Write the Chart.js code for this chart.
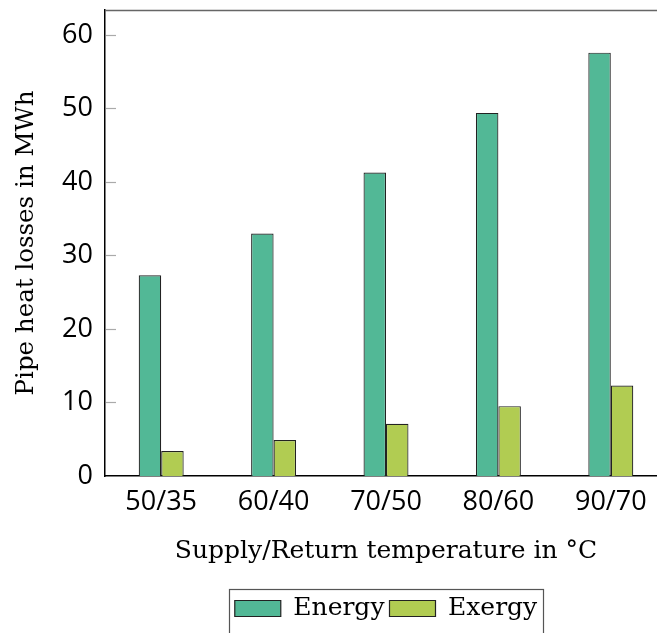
<!DOCTYPE html>
<html><head><meta charset="utf-8">
<script src="https://cdn.jsdelivr.net/npm/chart.js@4/dist/chart.umd.min.js"></script>
<style>
html,body{margin:0;padding:0;overflow:hidden;background:#fff;width:657px;height:633px}
#wrap{position:absolute;left:0;top:0;width:772px;height:633px}
</style>
</head><body><div id="wrap"><canvas id="c" width="772" height="633"></canvas></div>
<script>
const categories = ['50/35','60/40','70/50','80/60','90/70'];
const energy = [27.3, 33.0, 41.3, 49.4, 57.6];
const exergy = [3.4, 4.9, 7.1, 9.5, 12.3];
const yTicks = [0, 10, 20, 30, 40, 50, 60];
const yMax = 63.4;

const frame = {
  id: 'frame',
  afterDraw(chart) {
    const ctx = chart.ctx, a = chart.chartArea, y = chart.scales.y;
    ctx.save();
    ctx.strokeStyle = '#666'; ctx.lineWidth = 1.5;
    ctx.beginPath(); ctx.moveTo(a.left, a.top + 0.5); ctx.lineTo(a.right, a.top + 0.5); ctx.stroke();
    ctx.strokeStyle = '#aaa'; ctx.lineWidth = 1.2;
    yTicks.forEach(v => {
      if (v === 0) return;
      const py = Math.round(y.getPixelForValue(v)) + 0.5;
      ctx.beginPath(); ctx.moveTo(a.left + 1, py); ctx.lineTo(a.left + 11, py); ctx.stroke();
    });
    const hb = chart.legend.legendHitBoxes;
    if (hb && hb.length) {
      const l = hb[0].left - 6, r = hb[hb.length - 1].left + hb[hb.length - 1].width + 6;
      const t = hb[0].top - 7;
      ctx.strokeStyle = '#555'; ctx.lineWidth = 1.2;
      ctx.strokeRect(Math.round(l) + 0.5, Math.round(t) + 0.5, Math.round(r - l), 100);
    }
    ctx.restore();
  }
};

function noPad(s) { s.paddingTop = 0; s.paddingBottom = 0; s.paddingLeft = 0; s.paddingRight = 0; }

new Chart(document.getElementById('c'), {
  type: 'bar',
  data: {
    labels: categories,
    datasets: [
      { label: 'Energy', data: energy, backgroundColor: '#52b896', borderColor: '#222', borderWidth: 1.2, borderSkipped: 'bottom' },
      { label: 'Exergy', data: exergy, backgroundColor: '#b1cc52', borderColor: '#222', borderWidth: 1.2, borderSkipped: 'bottom' }
    ]
  },
  options: {
    responsive: false,
    animation: false,
    devicePixelRatio: 1,
    categoryPercentage: 0.4,
    barPercentage: 1.0,
    layout: { padding: { top: 10, left: 0, right: 0, bottom: 2 } },
    plugins: {
      tooltip: { enabled: false },
      legend: {
        position: 'bottom',
        labels: {
          boxWidth: 46, boxHeight: 16, padding: 5, color: '#000',
          font: { family: 'DejaVu Serif', size: 25 }
        }
      }
    },
    scales: {
      x: {
        grid: { display: false, drawTicks: false },
        border: { color: '#000', width: 1.5 },
        ticks: { color: '#000', padding: 10, font: { family: 'Open Sans', size: 27, weight: 500 } },
        title: { display: true, text: 'Supply/Return temperature in °C', color: '#000',
                 font: { family: 'DejaVu Serif', size: 25 }, padding: { top: 8, bottom: 25 } },
        afterFit(s) { s.height = 115; noPad(s); }
      },
      y: {
        min: 0, max: yMax,
        afterBuildTicks(s) { s.ticks = yTicks.map(v => ({ value: v })); },
        grid: { display: false, drawTicks: false },
        border: { color: '#000', width: 1.5 },
        ticks: { color: '#000', padding: 12, font: { family: 'Open Sans', size: 27, weight: 500 } },
        title: { display: true, text: 'Pipe heat losses in MWh', color: '#000',
                 font: { family: 'DejaVu Serif', size: 24.5 }, padding: { top: 12, bottom: 0 } },
        afterFit(s) { s.width = 105; noPad(s); }
      },
      yR: {
        position: 'right',
        min: 0, max: yMax,
        grid: { display: false, drawTicks: false },
        border: { display: false },
        ticks: { display: false },
        afterFit(s) { s.width = 105; noPad(s); }
      }
    }
  },
  plugins: [frame]
});
</script>
</body></html>
